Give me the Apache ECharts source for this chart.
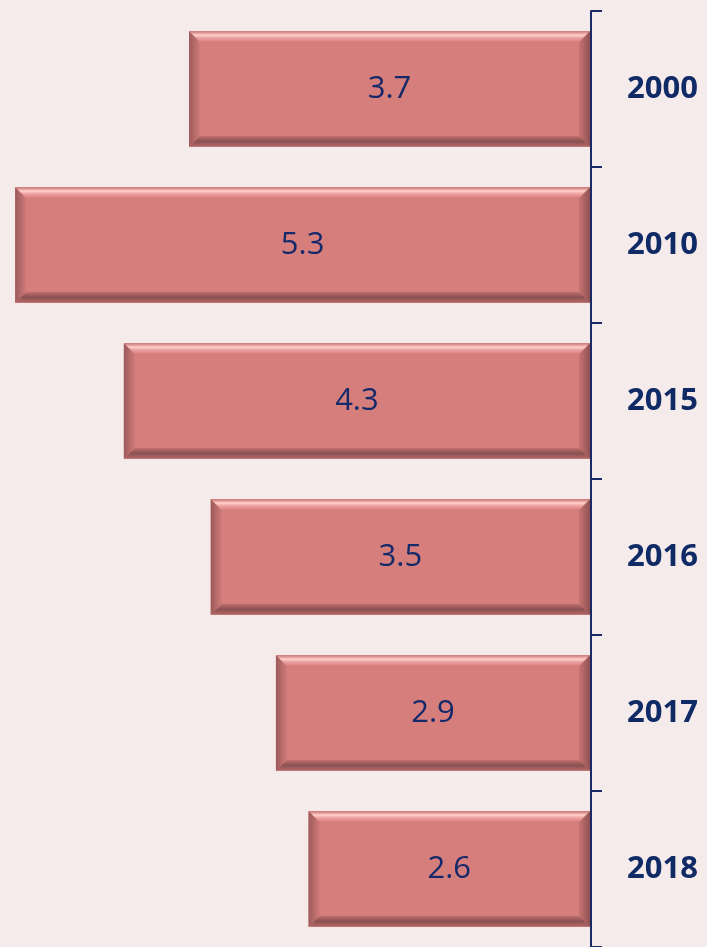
<!DOCTYPE html>
<html>
<head>
<meta charset="utf-8">
<script src="https://cdn.jsdelivr.net/npm/echarts@6/dist/echarts.min.js"></script>
<style>
html, body { margin: 0; padding: 0; background: #f5ebeb; }
#chart { width: 707px; height: 947px; }
</style>
</head>
<body>
<div id="chart"></div>
<script>
var years = ['2000', '2010', '2015', '2016', '2017', '2018'];
var values = [3.7, 5.3, 4.3, 3.5, 2.9, 2.6];

var dom = document.getElementById('chart');
var myChart = echarts.init(dom, null, { renderer: 'canvas' });

// bevelled bar, like the office "bevel" shape effect
function renderBar(params, api) {
    var idx = api.value(0);
    var val = api.value(1);
    var left = api.coord([val, idx]);
    var right = api.coord([0, idx]);
    var band = api.size([0, 1])[1];
    var h = band * 0.74;
    var x0 = left[0], x1 = right[0] - 1;
    var y0 = left[1] - h / 2, y1 = left[1] + h / 2;
    var b = 11;
    return {
        type: 'group',
        children: [
            { type: 'rect', shape: { x: x0, y: y0, width: x1 - x0, height: h },
              style: { fill: '#d67e7c' },
              textContent: { style: { text: String(val), fill: '#14296a', fontSize: 31,
                  fontFamily: 'Open Sans, sans-serif' } },
              textConfig: { position: 'inside' } },
            // top bevel
            { type: 'polygon', shape: { points: [[x0, y0], [x1, y0], [x1 - b, y0 + b], [x0 + b, y0 + b]] },
              style: { fill: new echarts.graphic.LinearGradient(0, 0, 0, 1, [
                  { offset: 0, color: '#c97270' }, { offset: 0.35, color: '#ffd0cc' },
                  { offset: 0.6, color: '#eda19e' }, { offset: 1, color: '#d67e7c' }]) } },
            // bottom bevel
            { type: 'polygon', shape: { points: [[x0, y1], [x1, y1], [x1 - b, y1 - b], [x0 + b, y1 - b]] },
              style: { fill: new echarts.graphic.LinearGradient(0, 0, 0, 1, [
                  { offset: 0, color: '#c47170' }, { offset: 0.5, color: '#8a5051' },
                  { offset: 1, color: '#b56a69' }]) } },
            // left bevel
            { type: 'polygon', shape: { points: [[x0, y0], [x0 + b, y0 + b], [x0 + b, y1 - b], [x0, y1]] },
              style: { fill: new echarts.graphic.LinearGradient(0, 0, 1, 0, [
                  { offset: 0, color: '#9c5a59' }, { offset: 1, color: '#cf7b79' }]) } },
            // right bevel
            { type: 'polygon', shape: { points: [[x1, y0], [x1 - b, y0 + b], [x1 - b, y1 - b], [x1, y1]] },
              style: { fill: new echarts.graphic.LinearGradient(1, 0, 0, 0, [
                  { offset: 0, color: '#8f5251' }, { offset: 1, color: '#c87472' }]) } }
        ]
    };
}

var option = {
    backgroundColor: '#f5ebeb',
    animation: false,
    grid: { left: 0, right: 116, top: 11, bottom: 0 },
    xAxis: {
        type: 'value',
        inverse: true,
        min: 0,
        max: 5.44,
        show: false
    },
    yAxis: {
        type: 'category',
        data: years,
        inverse: true,
        position: 'right',
        boundaryGap: true,
        axisLine: { show: true, lineStyle: { color: '#1b2a66', width: 2 } },
        axisTick: { show: true, inside: false, alignWithLabel: false, length: 11,
            lineStyle: { color: '#1b2a66', width: 2 } },
        axisLabel: {
            margin: 36,
            color: '#0f2a64',
            fontSize: 31,
            fontWeight: 'bold',
            fontFamily: 'Open Sans, sans-serif'
        },
        splitLine: { show: false }
    },
    series: [{
        type: 'custom',
        renderItem: renderBar,
        encode: { x: 1, y: 0 },
        data: values.map(function (v, i) { return [i, v]; })
    }]
};

myChart.setOption(option);
</script>
</body>
</html>
